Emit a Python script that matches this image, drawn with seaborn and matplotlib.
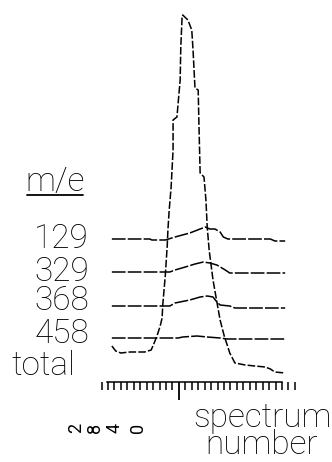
import matplotlib
matplotlib.use("Agg")
import matplotlib.pyplot as plt
import seaborn as sns
import pandas as pd
from matplotlib.ticker import MultipleLocator, FixedLocator, NullFormatter

sns.set_theme(style="white")
plt.rcParams['font.family'] = ['Roboto', 'DejaVu Sans']
plt.rcParams['text.color'] = 'black'

# ---- data (spectrum number, intensity) ----
total_s = [0.6, 1.2, 2.0, 3.4, 5.7, 6.7, 7.1, 7.6, 8.1, 8.4, 8.5, 8.9, 9.2, 9.3, 9.5, 9.8,
           10.1, 10.1, 10.7, 11.2, 11.3, 11.5, 11.6, 12.4, 13.0, 13.2, 13.5, 14.0, 14.1, 14.3,
           14.9, 15.2, 15.4, 15.7, 16.3, 16.9, 17.4, 18.0, 18.5, 18.9, 19.7, 21.3, 22.8, 24.4,
           25.2, 25.9, 27.5]
total_i = [36, 31, 29, 30, 30, 32, 38, 46, 56, 64, 77, 107, 137, 152, 172, 195,
           232, 262, 265, 302, 335, 365, 367, 362, 352, 332, 294, 292, 262, 209,
           205, 182, 155, 132, 102, 80, 62, 47, 37, 29, 19, 17, 16, 15,
           13, 10, 9]

mz_labels = ["129", "329", "368", "458"]
mz_offsets = [143, 110, 76, 44]
mz129_s = [0.6, 6.5, 6.8, 8.9, 10.4, 12.7, 14.3, 15.1, 15.8, 16.6, 17.4, 17.9, 18.6, 25.2, 25.9, 27.5]
mz129_i = [0, 0, -1, -1, 2, 6, 10, 12, 10, 10, 7, 2, 0, 0, -2, -2]
mz329_s = [0.6, 9.6, 10.4, 12.0, 13.5, 14.8, 15.8, 16.9, 18.2, 18.9, 27.5]
mz329_i = [0, 0, 2, 5, 8, 10, 9, 7, 2, -1, -1]
mz368_s = [0.6, 9.6, 10.4, 12.7, 14.3, 15.4, 16.3, 16.9, 17.4, 18.9, 19.7, 27.5]
mz368_i = [0, 0, 3, 6, 9, 10, 9, 4, 1, 0, -2, -2]
mz458_s = [0.6, 10.9, 11.6, 13.8, 15.4, 17.4, 18.5, 27.5]
mz458_i = [0, 0, 1, 2, 1, 0, -1, -1]
mz_s = [mz129_s, mz329_s, mz368_s, mz458_s]
mz_i = [mz129_i, mz329_i, mz368_i, mz458_i]

scale_digits = ["2", "8", "4", "0"]

W, H = 332, 462
fig = plt.figure(figsize=(W / 100, H / 100), dpi=100)
fig.patch.set_facecolor("white")
ax = fig.add_axes([100 / W, 1 - 382 / H, 200 / W, 377 / H])
ax.set_facecolor("white")

df_tot = pd.DataFrame({"s": total_s, "i": total_i})
sns.lineplot(data=df_tot, x="s", y="i", ax=ax, estimator=None, sort=False,
             color="black", linewidth=1.1, linestyle=(0, (5, 1.4)))

for lab, off, xs, ys in zip(mz_labels, mz_offsets, mz_s, mz_i):
    d = pd.DataFrame({"s": xs, "i": [v + off for v in ys]})
    sns.lineplot(data=d, x="s", y="i", ax=ax, estimator=None, sort=False,
                 color="black", linewidth=1.1, linestyle=(0, (9, 1.4)))

ax.set_xlim(-1.24, 29.8)
ax.set_ylim(0, 377)
ax.set_xlabel("")
ax.set_ylabel("")
for side in ["top", "left", "right"]:
    ax.spines[side].set_visible(False)
ax.spines["bottom"].set_color("black")
ax.spines["bottom"].set_linewidth(1.1)
ax.spines["bottom"].set_bounds(-0.15, 27)
ax.xaxis.set_major_locator(FixedLocator([11]))
ax.xaxis.set_minor_locator(MultipleLocator(1))
ax.xaxis.set_major_formatter(NullFormatter())
ax.tick_params(axis="x", which="major", direction="out", length=13, width=1.3, color="black", bottom=True)
ax.tick_params(axis="x", which="minor", direction="out", length=5.8, width=1.1, color="black", bottom=True)
ax.set_yticks([])

def px(x, y):
    return x / W, 1 - y / H

fs = 24
fw = "light"
fig.text(*px(55, 191), "m/e", fontsize=fs, fontweight=fw, ha="center", va="baseline", color="black")
fig.add_artist(plt.Line2D([27 / W, 83 / W], [1 - 195 / H, 1 - 195 / H], color="black", linewidth=1.3))
label_base = [248, 281, 310, 343]
for lab, yb in zip(mz_labels, label_base):
    fig.text(*px(89, yb), lab, fontsize=fs, fontweight=fw, ha="right", va="baseline", color="black")
fig.text(*px(11, 375), "total", fontsize=fs, fontweight=fw, ha="left", va="baseline", color="black")

fig.text(*px(262, 461), "spectrum\nnumber", fontsize=fs, fontweight=fw, ha="center", va="bottom",
         multialignment="center", linespacing=0.78, color="black")

for d, xx in zip(scale_digits, [76, 95, 115, 138]):
    fig.text(*px(xx, 428), d, fontsize=13, rotation=90, ha="center", va="center", color="black")

fig.savefig("out.png", dpi=100, facecolor="white")
